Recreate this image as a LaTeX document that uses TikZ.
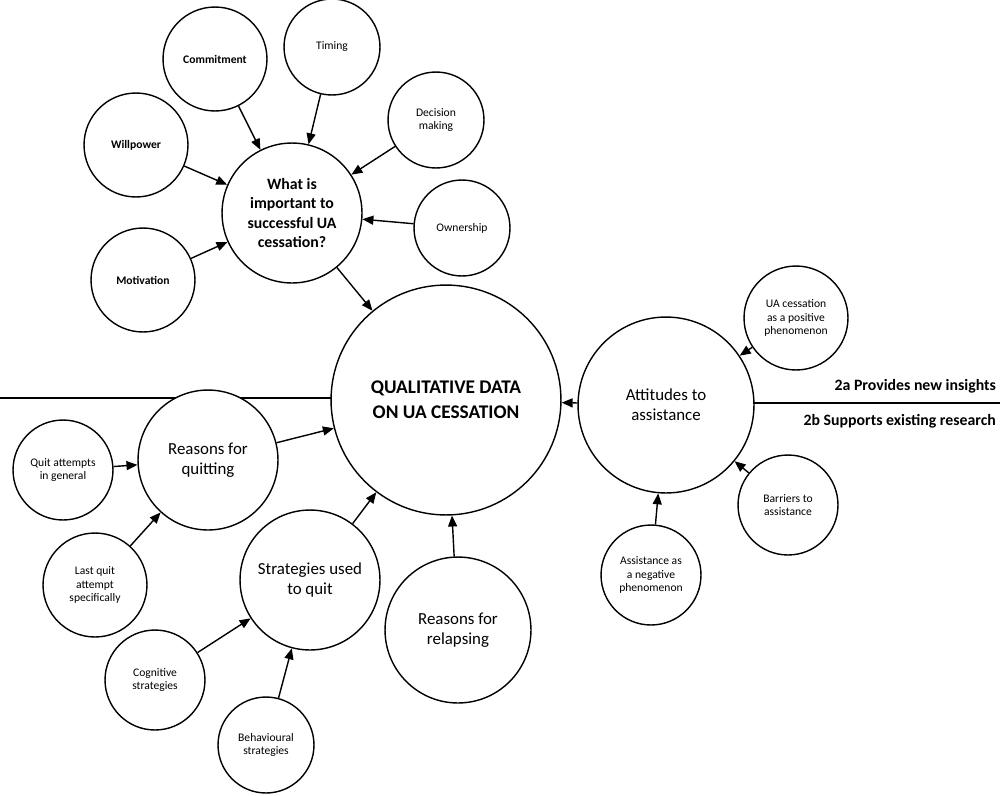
\documentclass[tikz,border=0pt]{standalone}
\usepackage{fontspec}
\setmainfont{Carlito}
\usetikzlibrary{arrows.meta}
\tikzset{
  bub/.style={circle, draw, thick, fill=white, inner sep=1pt, align=center, minimum size=#1*0.04cm, font=\fontsize{6.6}{7.8}\selectfont},
  boldbub/.style={bub=#1, font=\bfseries\fontsize{6.6}{7.8}\selectfont},
  big/.style={font=\fontsize{9.6}{11.5}\selectfont},
  fwd/.style={-{Triangle[length=2.2mm,width=1.8mm]}, thick},
}
\begin{document}
\begin{tikzpicture}[x=0.02cm, y=-0.02cm]
  \useasboundingbox (0,0) rectangle (1000,795);
  % section lines
  \coordinate (lineL) at (0,398);
  \coordinate (lineR) at (1000,403);
  \draw[thick] (lineL) -- (446,398);
  \draw[thick] (666,403) -- (lineR);
  \node[anchor=south east, font=\bfseries\fontsize{9}{10}\selectfont, inner sep=1pt] (ins) at (998,395) {2a Provides new insights};
  \node[anchor=north east, font=\bfseries\fontsize{9}{10}\selectfont, inner sep=1pt] (sup) at (998,412) {2b Supports existing research};

  % core
  \node[bub=115, font=\bfseries\fontsize{11}{14}\selectfont] (main) at (446,400) {QUALITATIVE DATA\\ON UA CESSATION};
  \node[bub=70, font=\bfseries\fontsize{9}{11}\selectfont] (what) at (292,213) {What is\\important to\\successful UA\\cessation?};
  \node[bub=88, big] (att) at (666,405) {Attitudes to\\assistance};
  \node[bub=70, big] (rq) at (208,460) {Reasons for\\quitting};
  \node[bub=70, big] (str) at (310,580) {Strategies used\\to quit};
  \node[bub=73, big] (rel) at (458,630) {Reasons for\\relapsing};

  % satellites
  \node[boldbub=52] (commit) at (215,59) {Commitment};
  \node[bub=48] (timing) at (332,47) {Timing};
  \node[bub=48] (decide) at (436,120) {Decision\\making};
  \node[boldbub=52] (will) at (136,145) {Willpower};
  \node[bub=48] (own) at (462,228) {Ownership};
  \node[boldbub=52] (motiv) at (143,280) {Motivation};
  \node[bub=52] (pos) at (796,318) {UA cessation\\as a positive\\phenomenon};
  \node[bub=50] (bar) at (788,505) {Barriers to\\assistance};
  \node[bub=50] (neg) at (651,575) {Assistance as\\a negative\\phenomenon};
  \node[bub=50] (qgen) at (63,470) {Quit attempts\\in general};
  \node[bub=52] (last) at (95,585) {Last quit\\attempt\\specifically};
  \node[bub=50] (cog) at (155,680) {Cognitive\\strategies};
  \node[bub=48] (beh) at (266,745) {Behavioural\\strategies};

  % connectors
  \foreach \s/\t in {commit/what, timing/what, decide/what, will/what, own/what, motiv/what,
                     what/main, att/main, rq/main, str/main, rel/main,
                     pos/att, bar/att, neg/att, qgen/rq, last/rq, cog/str, beh/str}
    \draw[fwd] (\s) -- (\t);
\end{tikzpicture}
\end{document}
